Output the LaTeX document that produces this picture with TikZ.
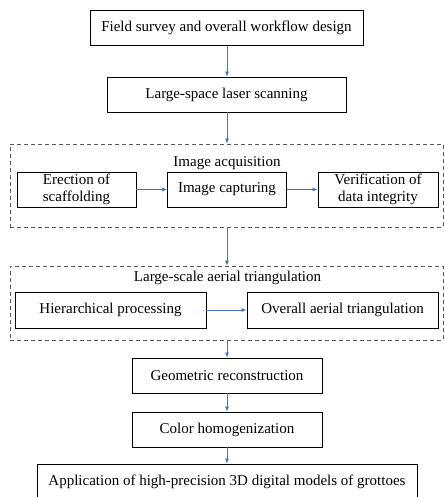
\documentclass[tikz,border=0pt]{standalone}
\usepackage{fontspec}
\setmainfont{Liberation Serif}
\usetikzlibrary{arrows.meta}
\definecolor{flowblue}{RGB}{68,114,196}
\begin{document}
\begin{tikzpicture}[x=1pt,y=-1pt,
    box/.style={draw,line width=0.8pt,inner sep=0pt,minimum height=35pt,align=center,font=\fontsize{15}{17}\selectfont},
    group/.style={draw=black!65,line width=0.8pt,dash pattern=on 4pt off 3pt,inner sep=0pt},
    title/.style={inner sep=0pt,font=\fontsize{15}{17}\selectfont},
    flow/.style={draw=flowblue,line width=0.8pt,-{Latex[length=5pt,width=4pt]}}]
  \useasboundingbox (0,0) rectangle (444,497);
  \coordinate (axis) at (227,0);

  \node[box,minimum width=273pt] (survey) at (226.5,28) {Field survey and overall workflow design};
  \node[box,minimum width=239pt] (laser) at (226.5,94.5) {Large-space laser scanning};

  % image acquisition
  \node[group,minimum width=433pt,minimum height=83pt] (acq) at (226.5,185.5) {};
  \node[title] (acqtitle) at (227,163) {Image acquisition};
  \node[box,minimum width=119pt] (scaffold) at (76.5,189.5) {Erection of\\scaffolding};
  \node[box,minimum width=119pt] (capture) at (227,189.5) {Image capturing};
  \node[box,minimum width=120pt] (verify) at (378,189.5) {Verification of\\data integrity};

  % aerial triangulation
  \node[group,minimum width=433pt,minimum height=74pt] (aat) at (226.5,303) {};
  \node[title] (aattitle) at (227.5,278) {Large-scale aerial triangulation};
  \node[box,minimum width=191pt,minimum height=36pt] (hier) at (110.5,310) {Hierarchical processing};
  \node[box,minimum width=191pt,minimum height=36pt] (overall) at (342.5,310) {Overall aerial triangulation};

  \node[box,minimum width=190pt] (geom) at (227,375.5) {Geometric reconstruction};
  \node[box,minimum width=190pt] (color) at (227,429.5) {Color homogenization};
  \node[box,minimum width=380pt] (app) at (227,481.5) {Application of high-precision 3D digital models of grottoes};

  \draw[flow] (survey.south -| axis) -- (laser.north -| axis);
  \draw[flow] (laser.south -| axis) -- (acq.north -| axis);
  \draw[flow] (scaffold) -- (capture);
  \draw[flow] (capture) -- (verify);
  \draw[flow] (acq.south -| axis) -- (aat.north -| axis);
  \draw[flow] (hier) -- (overall);
  \draw[flow] (aat.south -| axis) -- (geom.north -| axis);
  \draw[flow] (geom.south -| axis) -- (color.north -| axis);
  \draw[flow] (color.south -| axis) -- (app.north -| axis);
\end{tikzpicture}
\end{document}
